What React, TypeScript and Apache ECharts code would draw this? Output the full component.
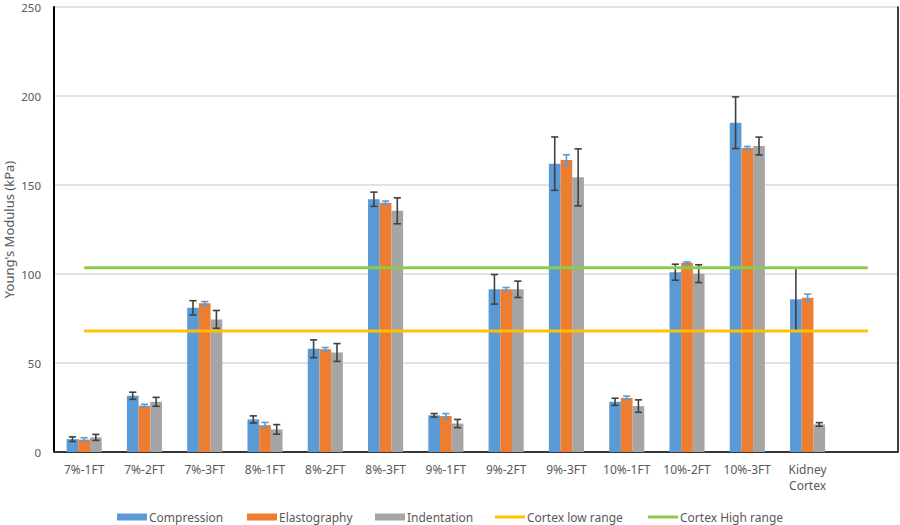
import React, { useEffect, useRef } from "react";
import * as echarts from "echarts";

const categories = ["7%-1FT", "7%-2FT", "7%-3FT", "8%-1FT", "8%-2FT", "8%-3FT", "9%-1FT", "9%-2FT", "9%-3FT", "10%-1FT", "10%-2FT", "10%-3FT", "Kidney\nCortex", ""];

const compression = [7.2, 31.6, 81, 18.3, 58, 142, 20.6, 91.4, 162, 28.2, 101, 185, 85.8];
const compressionErr = [1.3, 2, 4, 2, 5, 4, 1, 8.3, 15, 2, 4.5, 14.5, 17.7];
const elastography = [7, 26, 83.5, 15.1, 57.7, 140, 20.2, 91.4, 164, 30.4, 106.3, 170.8, 86.7];
const elastographyErr = [1, 0.8, 1, 1.5, 1, 1, 1.4, 1, 3, 1, 0.5, 0.8, 2];
const indentation = [8.2, 28.2, 74.5, 12.7, 55.9, 135.5, 16, 91.4, 154.3, 25.8, 100.2, 171.9, 15.5];
const indentationErr = [1.7, 2.5, 5, 2.7, 5, 7.3, 2.3, 4.6, 16, 3.5, 5, 5, 1];
const cortexLow = [68, 68, 68, 68, 68, 68, 68, 68, 68, 68, 68, 68, 68, 68];
const cortexHigh = [103.5, 103.5, 103.5, 103.5, 103.5, 103.5, 103.5, 103.5, 103.5, 103.5, 103.5, 103.5, 103.5, 103.5];

const FONT = "Noto Sans";
const BAR_W = 11.7;

function errData(vals: number[], errs: number[]) {
  return vals.map((v, i) => [i, v - errs[i], v + errs[i]]);
}

function errSeries(name: string, vals: number[], errs: number[], offset: number, color: string) {
  return {
    type: "custom",
    name: name + " err",
    z: 3,
    silent: true,
    data: errData(vals, errs),
    encode: { x: 0, y: [1, 2] },
    renderItem: (params: any, api: any) => {
      const x = api.value(0);
      const lo = api.value(1);
      const hi = api.value(2);
      const pHi = api.coord([x, hi]);
      const pLo = api.coord([x, lo]);
      const cx = pHi[0] + offset;
      const half = 3.6;
      const style = { stroke: color, lineWidth: 1.6 };
      return {
        type: "group",
        children: [
          { type: "line", shape: { x1: cx, y1: pHi[1], x2: cx, y2: pLo[1] }, style },
          { type: "line", shape: { x1: cx - half, y1: pHi[1], x2: cx + half, y2: pHi[1] }, style },
          { type: "line", shape: { x1: cx - half, y1: pLo[1], x2: cx + half, y2: pLo[1] }, style },
        ],
      };
    },
  };
}

function legendItem(name: string, left: number, h: number) {
  return {
    data: [{ name, icon: "rect" }],
    left,
    top: 511,
    padding: 0,
    itemWidth: 30,
    itemHeight: h,
    textStyle: { fontFamily: FONT, fontSize: 12, color: "#595959", padding: [0, 0, 0, -3] },
    selectedMode: false,
  };
}

export default function App() {
  const ref = useRef<HTMLDivElement>(null);
  useEffect(() => {
    if (!ref.current) return;
    const chart = echarts.init(ref.current, null, { renderer: "svg" });
    const barBase = { type: "bar", barWidth: BAR_W, barGap: "0%", z: 2 };
    chart.setOption({
      animation: false,
      color: ["#5B9BD5", "#ED7D31", "#A5A5A5", "#FFC000", "#8CCB4E"],
      grid: { left: 54, right: 2, top: 7, bottom: 73, containLabel: false, outerBoundsMode: "none" },
      legend: [
        legendItem("Compression", 117, 7),
        legendItem("Elastography", 247, 7),
        legendItem("Indentation", 375, 7),
        legendItem("Cortex low range", 495, 3),
        legendItem("Cortex High range", 648, 3),
      ],
      xAxis: [
        {
          type: "category",
          data: categories,
          axisLine: { lineStyle: { color: "#D9D9D9", width: 1.5 } },
          axisTick: { show: false },
          axisLabel: { interval: 0, fontFamily: FONT, fontSize: 12, color: "#595959", margin: 9, lineHeight: 16 },
        },
        {
          type: "category",
          position: "top",
          data: categories,
          axisLine: { lineStyle: { color: "#000", width: 1.5 } },
          axisTick: { show: false },
          axisLabel: { show: false },
        },
      ],
      yAxis: [
        {
          type: "value",
          min: 0,
          max: 250,
          interval: 50,
          name: "Young's Modulus (kPa)",
          nameLocation: "middle",
          nameGap: 39,
          nameMoveOverlap: false,
          nameTextStyle: { fontFamily: FONT, fontSize: 13, color: "#595959" },
          axisLine: { show: true, lineStyle: { color: "#000", width: 2 } },
          axisTick: { show: false },
          axisLabel: { fontFamily: FONT, fontSize: 11.5, color: "#595959", margin: 13 },
          splitLine: { lineStyle: { color: "#D9D9D9", width: 1.5 } },
        },
        {
          type: "value",
          position: "right",
          min: 0,
          max: 250,
          interval: 50,
          axisLine: { show: true, lineStyle: { color: "#000", width: 1.5 } },
          axisTick: { show: false },
          axisLabel: { show: false },
          splitLine: { show: false },
        },
      ],
      series: [
        { ...barBase, name: "Compression", data: compression, itemStyle: { color: "#5B9BD5" } },
        { ...barBase, name: "Elastography", data: elastography, itemStyle: { color: "#ED7D31" } },
        { ...barBase, name: "Indentation", data: indentation, itemStyle: { color: "#A5A5A5" } },
        errSeries("Compression", compression, compressionErr, -BAR_W, "#404040"),
        errSeries("Elastography", elastography, elastographyErr, 0, "#5B9BD5"),
        errSeries("Indentation", indentation, indentationErr, BAR_W, "#404040"),
        {
          type: "line",
          name: "Cortex low range",
          data: cortexLow,
          symbol: "none",
          z: 5,
          lineStyle: { color: "#FFC000", width: 3 },
          itemStyle: { color: "#FFC000" },
        },
        {
          type: "line",
          name: "Cortex High range",
          data: cortexHigh,
          symbol: "none",
          z: 5,
          lineStyle: { color: "#8CCB4E", width: 3 },
          itemStyle: { color: "#8CCB4E" },
        },
      ],
    });
    return () => chart.dispose();
  }, []);
  return <div ref={ref} style={{ width: 900, height: 525, position: "absolute", left: 0, top: 0 }} />;
}
